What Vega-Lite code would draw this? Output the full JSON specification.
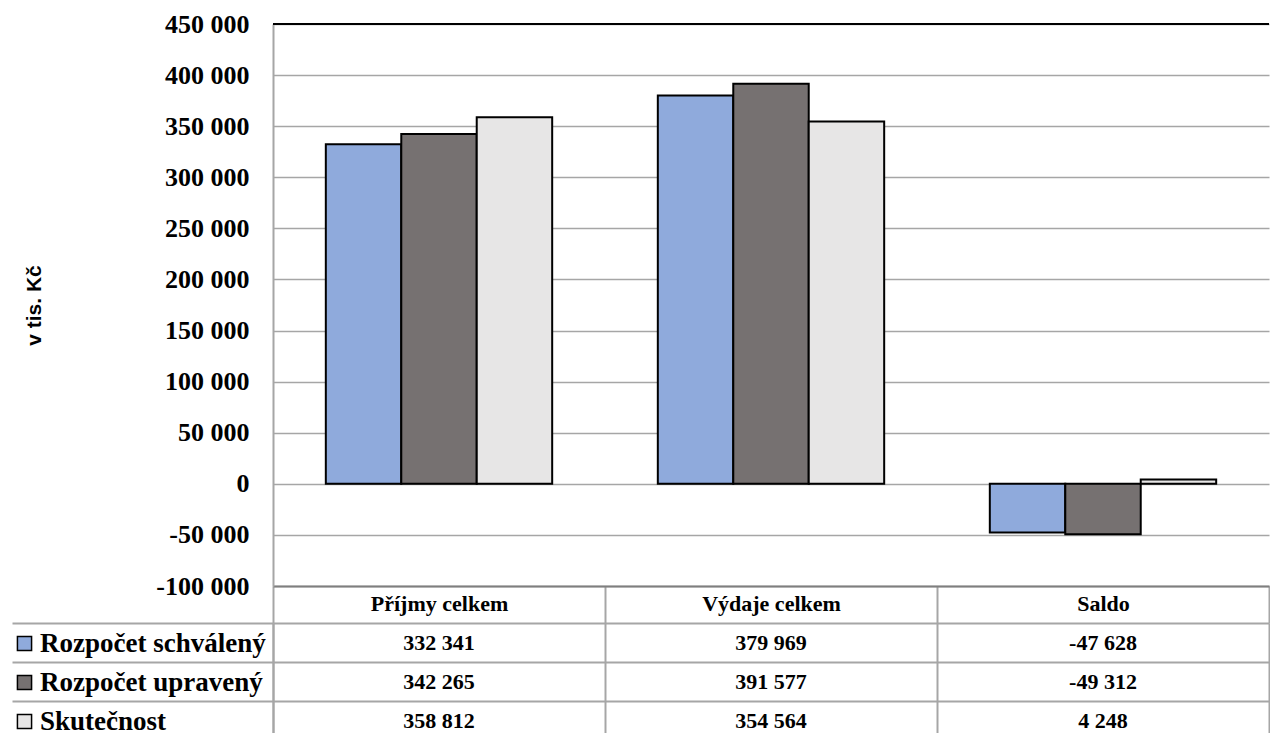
{
  "$schema": "https://vega.github.io/schema/vega-lite/v6.json",
  "padding": {"left": 11, "top": 11, "right": 0, "bottom": 0},
  "background": "white",
  "data": {"values": [
    {"kategorie": "Příjmy celkem", "rada": "Rozpočet schválený", "hodnota": 332341},
    {"kategorie": "Příjmy celkem", "rada": "Rozpočet upravený", "hodnota": 342265},
    {"kategorie": "Příjmy celkem", "rada": "Skutečnost", "hodnota": 358812},
    {"kategorie": "Výdaje celkem", "rada": "Rozpočet schválený", "hodnota": 379969},
    {"kategorie": "Výdaje celkem", "rada": "Rozpočet upravený", "hodnota": 391577},
    {"kategorie": "Výdaje celkem", "rada": "Skutečnost", "hodnota": 354564},
    {"kategorie": "Saldo", "rada": "Rozpočet schválený", "hodnota": -47628},
    {"kategorie": "Saldo", "rada": "Rozpočet upravený", "hodnota": -49312},
    {"kategorie": "Saldo", "rada": "Skutečnost", "hodnota": 4248}
  ]},
  "bounds": "flush",
  "spacing": 37,
  "resolve": {"scale": {"x": "independent", "y": "independent"}},
  "vconcat": [
    {
      "width": 996,
      "height": 562,
      "layer": [
        {
          "mark": {"type": "bar", "stroke": "black", "strokeWidth": 2},
          "encoding": {
            "x": {"field": "kategorie", "type": "nominal", "sort": ["Příjmy celkem", "Výdaje celkem", "Saldo"],
              "scale": {"paddingInner": 0, "paddingOuter": 0},
              "axis": {"orient": "bottom", "title": null, "labelAngle": 0, "tickBand": "extent", "labelAlign": "center",
                "ticks": true, "tickSize": 37, "tickColor": "#A6A6A6", "tickWidth": 2,
                "domain": true, "domainColor": "#7F7F7F", "domainWidth": 2,
                "labelFont": "Liberation Serif", "labelFontSize": 22, "labelFontWeight": "bold", "labelColor": "black",
                "labelPadding": -30, "labelBaseline": "top"}},
            "xOffset": {"field": "rada", "type": "nominal", "sort": ["Rozpočet schválený", "Rozpočet upravený", "Skutečnost"],
              "scale": {"paddingInner": 0, "paddingOuter": 0.7}},
            "y": {"field": "hodnota", "type": "quantitative",
              "scale": {"domain": [-100000, 450000], "nice": false, "zero": false},
              "axis": {"title": "v tis. Kč", "values": [-100000, -50000, 0, 50000, 100000, 150000, 200000, 250000, 300000, 350000, 400000, 450000],
                "format": ",.0f", "ticks": false, "labelPadding": 24,
                "labelFont": "Liberation Serif", "labelFontSize": 26, "labelFontWeight": "bold", "labelColor": "black",
                "domain": true, "domainColor": "#A6A6A6", "domainWidth": 2,
                "grid": true, "gridColor": "#A6A6A6", "gridWidth": 1.5,
                "titleFont": "Liberation Sans", "titleFontSize": 21, "titleFontWeight": "bold", "titleColor": "black",
                "titleX": -239, "titleY": 281, "titleBaseline": "middle", "titleAngle": -90}},
            "color": {"field": "rada", "type": "nominal",
              "scale": {"domain": ["Rozpočet schválený", "Rozpočet upravený", "Skutečnost"], "range": ["#8FAADC", "#767171", "#E7E6E6"]},
              "legend": {"orient": "none", "legendX": -262, "legendY": 606, "title": null,
                "symbolType": "square", "symbolSize": 200, "symbolStrokeColor": "black", "symbolStrokeWidth": 1.5, "symbolOpacity": 1,
                "labelFont": "Liberation Serif", "labelFontSize": 27, "labelFontWeight": "bold", "labelColor": "black",
                "labelOffset": 2, "rowPadding": 11, "labelLimit": 0}}
          }
        },
        {
          "mark": {"type": "rule", "color": "black", "strokeWidth": 2},
          "encoding": {"y": {"datum": 450000}}
        }
      ]
    },
    {
      "width": 996,
      "height": 117,
      "mark": {"type": "text", "font": "Liberation Serif", "fontSize": 22, "fontWeight": "bold", "color": "black", "baseline": "middle"},
      "encoding": {
        "x": {"field": "kategorie", "type": "nominal", "sort": ["Příjmy celkem", "Výdaje celkem", "Saldo"],
          "scale": {"paddingInner": 0, "paddingOuter": 0},
          "axis": {"title": null, "labels": false, "ticks": false, "domain": false, "grid": true, "tickBand": "extent",
            "gridColor": "#A6A6A6", "gridWidth": 2}},
        "y": {"field": "rada", "type": "nominal", "sort": ["Rozpočet schválený", "Rozpočet upravený", "Skutečnost"],
          "scale": {"paddingInner": 0, "paddingOuter": 0},
          "axis": {"title": null, "labels": false, "ticks": true, "tickSize": 261, "tickColor": "#A6A6A6", "tickWidth": 2,
            "domain": true, "domainColor": "#A6A6A6", "domainWidth": 2, "grid": true, "gridColor": "#A6A6A6", "gridWidth": 2, "tickBand": "extent"}},
        "text": {"field": "hodnota", "type": "quantitative", "format": ",.0f"}
      }
    }
  ],
  "config": {
    "view": {"stroke": null},
    "axisY": {"titleFont": "Liberation Sans", "titleFontSize": 21, "titleFontWeight": "bold", "titleColor": "black"},
    "legend": {"labelFont": "Liberation Serif", "labelFontSize": 27, "labelFontWeight": "bold", "labelColor": "black"},
    "locale": {"number": {"decimal": ",", "thousands": " ", "grouping": [3], "currency": ["", " Kč"], "minus": "-"}}
  }
}
